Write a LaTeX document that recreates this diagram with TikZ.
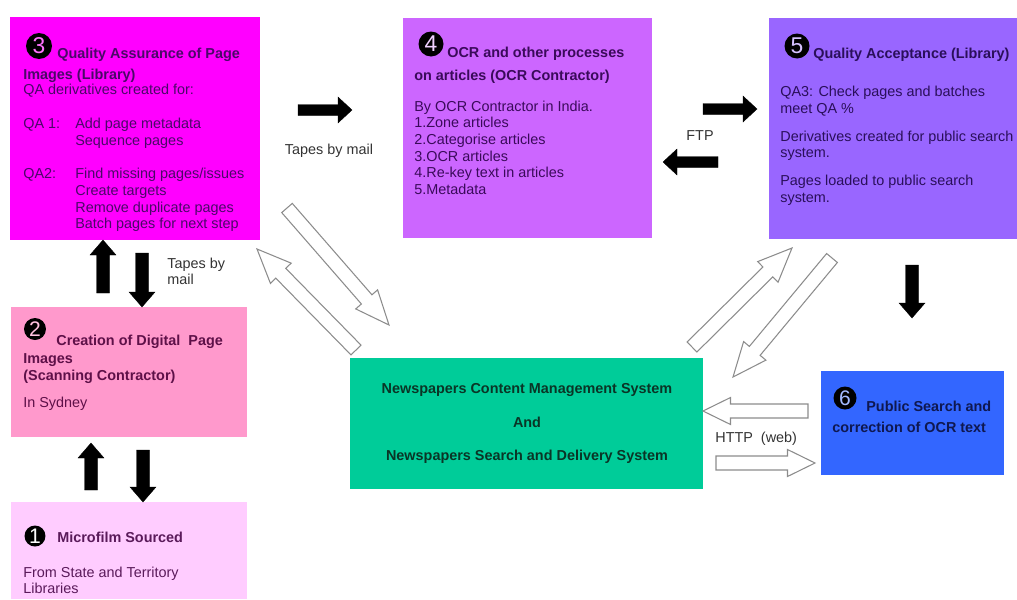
\documentclass[tikz,border=0pt]{standalone}
\usepackage{fontspec}
\setmainfont{Liberation Sans}
\usetikzlibrary{calc}
\definecolor{cthree}{HTML}{FF00FF}
\definecolor{cfour}{HTML}{CC66FF}
\definecolor{cfive}{HTML}{9966FF}
\definecolor{ctwo}{HTML}{FF99CC}
\definecolor{cone}{HTML}{FFCCFF}
\definecolor{cgreen}{HTML}{00CC99}
\definecolor{csix}{HTML}{3366FF}
\definecolor{tthree}{HTML}{4A0868}
\definecolor{tfour}{HTML}{3A0A5A}
\definecolor{tfive}{HTML}{2A0F5A}
\definecolor{ttwo}{HTML}{5E1048}
\definecolor{tone}{HTML}{5A1A5A}
\definecolor{tgreen}{HTML}{0A3526}
\definecolor{tsix}{HTML}{0F1850}
\definecolor{lgray}{HTML}{333333}
\newcounter{tlc}
\newcommand\tline[4]{\stepcounter{tlc}\node[#1] (tl\arabic{tlc}) at (#2,#3) {#4};}
% block arrow: style, tail, tip, shaft half, head half, head length
\newcommand\blockarr[6]{%
  \path ($(#3)!#6!(#2)$) coordinate (hb);
  \draw[#1] ($(#2)!#4!-90:(#3)$) -- ($(hb)!#4!90:(#2)$) -- ($(hb)!#5!90:(#2)$) -- (#3)
    -- ($(hb)!#5!-90:(#2)$) -- ($(hb)!#4!-90:(#2)$) -- ($(#2)!#4!90:(#3)$) -- cycle;}
\begin{document}
\begin{tikzpicture}[x=0.02cm,y=-0.02cm,
  box/.style={draw=none, inner sep=0pt, anchor=north west},
  txt/.style={inner sep=0pt, anchor=base west, font=\fontsize{8.2}{9.45}\selectfont},
  ttl/.style={txt, font=\fontsize{8.2}{9.45}\selectfont\bfseries},
  ctr/.style={inner sep=0pt, anchor=base, font=\fontsize{8.2}{9.45}\selectfont\bfseries, text=tgreen},
  lbl/.style={inner sep=0pt, text=lgray, font=\fontsize{8.2}{9.45}\selectfont},
  num/.style={circle, fill=black, inner sep=0pt, minimum size=0.5cm, font=\fontsize{13}{13}\selectfont},
  blk/.style={fill=black, draw=black, line width=0.2pt},
  hol/.style={fill=white, draw=black!45, line width=0.6pt, line join=miter}]
\useasboundingbox (0,0) rectangle (1017,599);

% boxes
\node[box, fill=cthree, minimum width=5cm, minimum height=4.46cm] (b3) at (10,17) {};
\node[box, fill=cfour, minimum width=4.98cm, minimum height=4.40cm] (b4) at (403,18) {};
\node[box, fill=cfive, minimum width=4.96cm, minimum height=4.42cm] (b5) at (769,18) {};
\node[box, fill=ctwo, minimum width=4.72cm, minimum height=2.6cm] (b2) at (11,307) {};
\node[box, fill=cone, minimum width=4.72cm, minimum height=1.94cm] (b1) at (11,502) {};
\node[box, fill=cgreen, minimum width=7.06cm, minimum height=2.62cm] (bg) at (350,358) {};
\node[box, fill=csix, minimum width=3.66cm, minimum height=2.08cm] (b6) at (821,371) {};

% box 3
\node[num, text=white!45!cthree, minimum size=0.52cm] (n3) at (39,46) {3};
\tline{ttl, text=tthree}{57}{58}{Quality Assurance of Page}
\tline{ttl, text=tthree}{23}{79}{Images (Library)}
\tline{txt, text=tthree}{23}{94}{QA derivatives created for:}
\tline{txt, text=tthree}{23}{128}{QA 1:}
\tline{txt, text=tthree}{75}{128}{Add page metadata}
\tline{txt, text=tthree}{75}{145}{Sequence pages}
\tline{txt, text=tthree}{23}{178}{QA2:}
\tline{txt, text=tthree}{75}{178}{Find missing pages/issues}
\tline{txt, text=tthree}{75}{195}{Create targets}
\tline{txt, text=tthree}{75}{212}{Remove duplicate pages}
\tline{txt, text=tthree}{75}{228}{Batch pages for next step}

% box 4
\node[num, text=white!70!cfour] (n4) at (431,44) {4};
\tline{ttl, text=tfour}{447}{57}{OCR and other processes}
\tline{ttl, text=tfour}{414}{80}{on articles (OCR Contractor)}
\tline{txt, text=tfour}{414}{111}{By OCR Contractor in India.}
\tline{txt, text=tfour}{414}{127}{1.Zone articles}
\tline{txt, text=tfour}{414}{144}{2.Categorise articles}
\tline{txt, text=tfour}{414}{161}{3.OCR articles}
\tline{txt, text=tfour}{414}{177}{4.Re-key text in articles}
\tline{txt, text=tfour}{414}{194}{5.Metadata}

% box 5
\node[num, text=white!60!cfive] (n5) at (797,46) {5};
\tline{ttl, text=tfive}{813}{58}{Quality Acceptance (Library)}
\tline{txt, text=tfive}{780}{96}{QA3: Check pages and batches}
\tline{txt, text=tfive}{780}{113}{meet QA \%}
\tline{txt, text=tfive}{780}{141}{Derivatives created for public search}
\tline{txt, text=tfive}{780}{157}{system.}
\tline{txt, text=tfive}{780}{185}{Pages loaded to public search}
\tline{txt, text=tfive}{780}{202}{system.}

% box 2
\node[num, text=white!40!ctwo, minimum size=0.44cm, font=\fontsize{12}{12}\selectfont] (n2) at (35,329) {2};
\tline{ttl, text=ttwo}{56}{345}{Creation of Digital\ \ Page}
\tline{ttl, text=ttwo}{23}{363}{Images}
\tline{ttl, text=ttwo}{23}{380}{(Scanning Contractor)}
\tline{txt, text=ttwo}{23}{407}{In Sydney}

% box 1
\node[num, text=white, minimum size=0.42cm, font=\fontsize{12}{12}\selectfont] (n1) at (35,536) {1};
\tline{ttl, text=tone}{57}{542}{Microfilm Sourced}
\tline{txt, text=tone}{23}{577}{From State and Territory}
\tline{txt, text=tone}{23}{593}{Libraries}

% green box
\tline{ctr}{527}{393}{Newspapers Content Management System}
\tline{ctr}{527}{427}{And}
\tline{ctr}{527}{460}{Newspapers Search and Delivery System}

% box 6
\node[num, text=white!55!csix, minimum size=0.46cm, font=\fontsize{12}{12}\selectfont] (n6) at (845,398) {6};
\tline{ttl, text=tsix}{866}{411}{Public Search and}
\tline{ttl, text=tsix}{832}{432}{correction of OCR text}

% black arrows
\coordinate (k1s) at (298,110); \coordinate (k1e) at (352,110);
\coordinate (k2s) at (703,109); \coordinate (k2e) at (757,109);
\coordinate (k3s) at (718,162); \coordinate (k3e) at (663,162);
\coordinate (k4s) at (103,293); \coordinate (k4e) at (103,240);
\coordinate (k5s) at (142,253); \coordinate (k5e) at (142,307);
\coordinate (k6s) at (91,490);  \coordinate (k6e) at (91,443);
\coordinate (k7s) at (143,450); \coordinate (k7e) at (143,502);
\coordinate (k8s) at (912,265); \coordinate (k8e) at (912,318);
\blockarr{blk}{k1s}{k1e}{0.11cm}{0.26cm}{0.28cm}
\blockarr{blk}{k2s}{k2e}{0.11cm}{0.26cm}{0.28cm}
\blockarr{blk}{k3s}{k3e}{0.11cm}{0.26cm}{0.28cm}
\blockarr{blk}{k4s}{k4e}{0.13cm}{0.26cm}{0.3cm}
\blockarr{blk}{k5s}{k5e}{0.13cm}{0.26cm}{0.3cm}
\blockarr{blk}{k6s}{k6e}{0.13cm}{0.26cm}{0.3cm}
\blockarr{blk}{k7s}{k7e}{0.13cm}{0.26cm}{0.3cm}
\blockarr{blk}{k8s}{k8e}{0.13cm}{0.26cm}{0.3cm}

% hollow arrows
\coordinate (h1s) at (356,350); \coordinate (h1e) at (257,249);
\coordinate (h2s) at (287,208); \coordinate (h2e) at (389,325);
\coordinate (h3s) at (692,347); \coordinate (h3e) at (792,248);
\coordinate (h4s) at (832,258); \coordinate (h4e) at (733,377);
\coordinate (h5s) at (808,411); \coordinate (h5e) at (703,411);
\coordinate (h6s) at (716,463); \coordinate (h6e) at (815,463);
\blockarr{hol}{h1s}{h1e}{0.14cm}{0.29cm}{0.68cm}
\blockarr{hol}{h2s}{h2e}{0.14cm}{0.29cm}{0.68cm}
\blockarr{hol}{h3s}{h3e}{0.14cm}{0.29cm}{0.68cm}
\blockarr{hol}{h4s}{h4e}{0.14cm}{0.29cm}{0.68cm}
\blockarr{hol}{h5s}{h5e}{0.14cm}{0.27cm}{0.55cm}
\blockarr{hol}{h6s}{h6e}{0.14cm}{0.27cm}{0.55cm}

% labels
\node[lbl, anchor=base] (l1) at (329,154) {Tapes by mail};
\node[lbl, anchor=base west] (l2) at (167,268) {Tapes by};
\node[lbl, anchor=base west] (l3) at (167,284) {mail};
\node[lbl, anchor=base] (l4) at (700,140) {FTP};
\node[lbl, anchor=base west] (l5) at (715,442) {HTTP\ \ (web)};
\end{tikzpicture}
\end{document}
